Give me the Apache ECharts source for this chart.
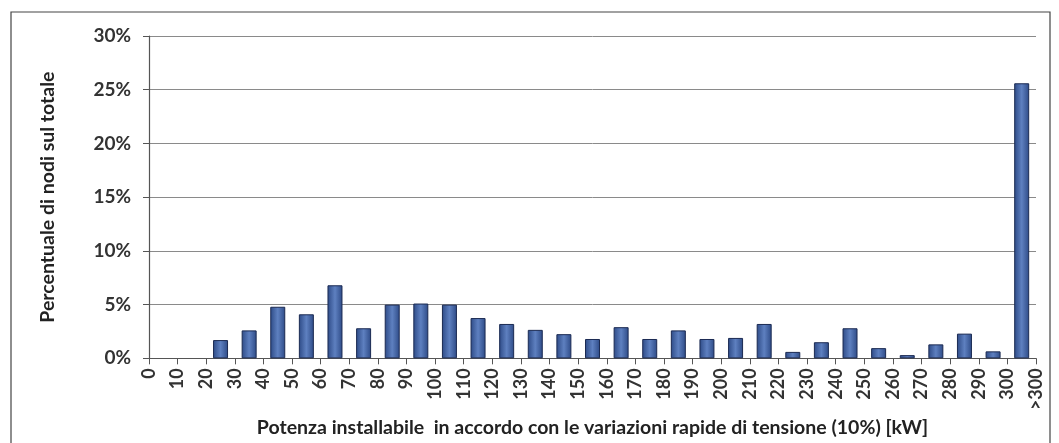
<!DOCTYPE html>
<html>
<head>
<meta charset="utf-8">
<script src="https://cdn.jsdelivr.net/npm/echarts@6/dist/echarts.min.js"></script>
<style>
  html, body { margin: 0; padding: 0; background: #ffffff; }
  #chart { width: 1059px; height: 443px; }
</style>
</head>
<body>
<div id="chart"></div>
<script>
// Boundary labels drawn under each tick (kW)
const tickLabels = ['0','10','20','30','40','50','60','70','80','90','100','110','120','130','140','150',
  '160','170','180','190','200','210','220','230','240','250','260','270','280','290','300','>300'];

// One class per interval between consecutive ticks
const classes = ['0-10','10-20','20-30','30-40','40-50','50-60','60-70','70-80','80-90','90-100',
  '100-110','110-120','120-130','130-140','140-150','150-160','160-170','170-180','180-190','190-200',
  '200-210','210-220','220-230','230-240','240-250','250-260','260-270','270-280','280-290','290-300','>300'];

// Share of nodes in each class (%)
const shares = [0, 0, 1.7, 2.6, 4.8, 4.1, 6.8, 2.8, 5.0, 5.1,
  5.0, 3.75, 3.2, 2.65, 2.25, 1.8, 2.9, 1.8, 2.6, 1.8,
  1.9, 3.2, 0.6, 1.5, 2.8, 0.95, 0.3, 1.3, 2.3, 0.65, 25.6];

const yTicks = { min: 0, max: 30, step: 5 };

const font = 'Lato, "Open Sans", sans-serif';

const chart = echarts.init(document.getElementById('chart'));

chart.setOption({
  backgroundColor: '#ffffff',
  animation: false,
  graphic: [{
    type: 'rect',
    shape: { x: 11, y: 12, width: 1039, height: 440 },
    style: { fill: 'none', stroke: '#444', lineWidth: 1.2 },
    silent: true,
    z: -1
  }],
  grid: { left: 149, right: 23, top: 36, bottom: 84 },
  xAxis: {
    type: 'value',
    min: 0,
    max: tickLabels.length - 1,
    interval: 1,
    name: 'Potenza installabile  in accordo con le variazioni rapide di tensione (10%) [kW]',
    nameLocation: 'middle',
    nameGap: 52,
    nameTextStyle: { fontFamily: font, fontWeight: 'bold', fontSize: 19.5, color: '#222' },
    axisLine: { show: true, onZero: false, lineStyle: { color: '#555', width: 1.2 } },
    axisTick: { show: true, length: 6, lineStyle: { color: '#555' } },
    splitLine: { show: false },
    axisLabel: {
      rotate: 90,
      margin: 10,
      fontFamily: font,
      fontWeight: 'bold',
      fontSize: 18,
      color: '#333',
      formatter: v => tickLabels[v] ?? ''
    }
  },
  yAxis: {
    type: 'value',
    min: yTicks.min,
    max: yTicks.max,
    interval: yTicks.step,
    name: 'Percentuale di nodi sul totale',
    nameLocation: 'middle',
    nameGap: 91,
    nameTextStyle: { fontFamily: font, fontWeight: 'bold', fontSize: 19.5, color: '#222' },
    axisLine: { show: true, lineStyle: { color: '#555', width: 1.2 } },
    axisTick: { show: true, length: 6, lineStyle: { color: '#555' } },
    splitLine: { show: true, lineStyle: { color: '#8a8a8a', width: 1 } },
    axisLabel: {
      margin: 18,
      fontFamily: font,
      fontWeight: 'bold',
      fontSize: 19,
      color: '#333',
      formatter: '{value}%'
    }
  },
  series: [{
    type: 'bar',
    name: 'Nodi',
    barWidth: 15,
    data: shares.map((v, i) => ({
      name: classes[i],
      value: [i + 0.5, v],
      // empty classes draw nothing, not even an outline
      itemStyle: v === 0 ? { borderWidth: 0, opacity: 0 } : undefined
    })),
    itemStyle: {
      color: new echarts.graphic.LinearGradient(0, 0, 1, 0, [
        { offset: 0, color: '#2d4a86' },
        { offset: 0.5, color: '#5e80c0' },
        { offset: 1, color: '#2d4a86' }
      ]),
      borderColor: '#1b2a52',
      borderWidth: 1
    }
  }]
});
</script>
</body>
</html>
